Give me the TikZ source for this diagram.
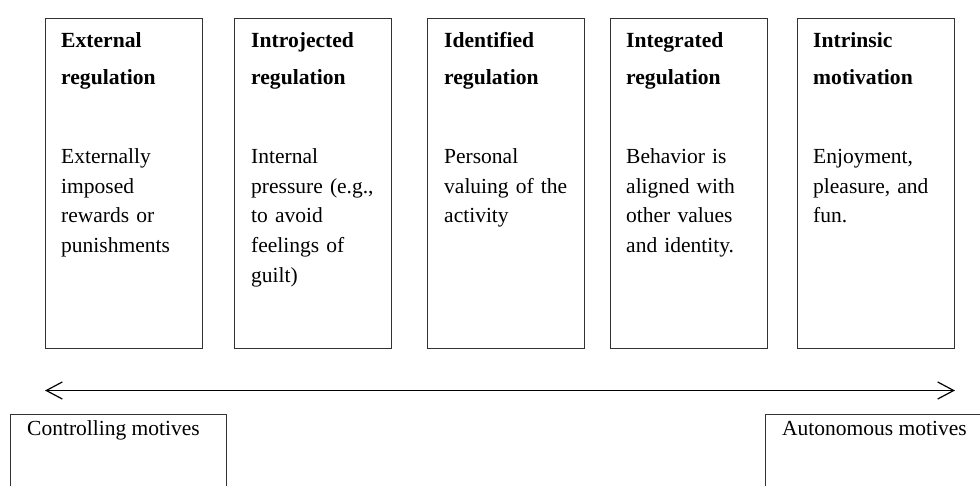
\documentclass[tikz,border=0pt]{standalone}
\usepackage{fontspec}
\setmainfont{Liberation Serif}
\usetikzlibrary{positioning, arrows.meta}
\tikzstyle{stage} = [rectangle, minimum width=157pt, minimum height=329pt, draw=black!80, line width=1pt, inner sep=0pt]
\tikzstyle{title} = [anchor=base west, inner sep=0pt, text width=140pt, align=left, font=\fontsize{21.6}{37}\selectfont\bfseries]
\tikzstyle{desc} = [anchor=base west, inner sep=0pt, text width=140pt, align=left, font=\fontsize{21.5}{29.7}\selectfont]
\tikzstyle{motive} = [rectangle, minimum width=216pt, minimum height=120pt, draw=black!80, line width=1pt, inner sep=0pt]
\tikzstyle{motivetext} = [anchor=base west, inner sep=0pt, font=\fontsize{21.5}{29.7}\selectfont]
\tikzstyle{arrow} = [line width=1.2pt, {Straight Barb[length=16pt, width=17pt]}-{Straight Barb[length=16pt, width=17pt]}]

\begin{document}
\begin{tikzpicture}[x=1pt, y=1pt]
	\useasboundingbox (0,0) rectangle (980,-486);

	% the five regulation types
	\node (ext) [stage, anchor=north west] at (45,-18.5) {};
	\node (intro) [stage, right=31pt of ext] {};
	\node (ident) [stage, right=35pt of intro] {};
	\node (integ) [stage, right=25pt of ident] {};
	\node (intr) [stage, right=29pt of integ] {};

	\node (ext-t) [title] at ([xshift=16pt, yshift=-29pt]ext.north west) {External\\regulation};
	\node (ext-d) [desc] at ([xshift=16pt, yshift=-145pt]ext.north west) {Externally\\imposed\\rewards or\\punishments};
	\node (intro-t) [title] at ([xshift=17pt, yshift=-29pt]intro.north west) {Introjected\\regulation};
	\node (intro-d) [desc] at ([xshift=17pt, yshift=-145pt]intro.north west) {Internal\\pressure (e.g.,\\to avoid\\feelings of\\guilt)};
	\node (ident-t) [title] at ([xshift=17pt, yshift=-29pt]ident.north west) {Identified\\regulation};
	\node (ident-d) [desc] at ([xshift=17pt, yshift=-145pt]ident.north west) {Personal\\valuing of the\\activity};
	\node (integ-t) [title] at ([xshift=16pt, yshift=-29pt]integ.north west) {Integrated\\regulation};
	\node (integ-d) [desc] at ([xshift=16pt, yshift=-145pt]integ.north west) {Behavior is\\aligned with\\other values\\and identity.};
	\node (intr-t) [title] at ([xshift=16pt, yshift=-29pt]intr.north west) {Intrinsic\\motivation};
	\node (intr-d) [desc] at ([xshift=16pt, yshift=-145pt]intr.north west) {Enjoyment,\\pleasure, and\\fun.};

	% continuum
	\coordinate (ctrl-end) at ([yshift=-42pt]ext.south west);
	\coordinate (auto-end) at ([yshift=-42pt]intr.south east);
	\draw [arrow] (ctrl-end) -- (auto-end);

	\node (ctrl) [motive, anchor=north west] at (10,-414) {};
	\node (auto) [motive, anchor=north west] at (765,-414) {};
	\node (ctrl-t) [motivetext] at ([xshift=17pt, yshift=-21pt]ctrl.north west) {Controlling motives};
	\node (auto-t) [motivetext] at ([xshift=17pt, yshift=-21pt]auto.north west) {Autonomous motives};
\end{tikzpicture}
\end{document}
